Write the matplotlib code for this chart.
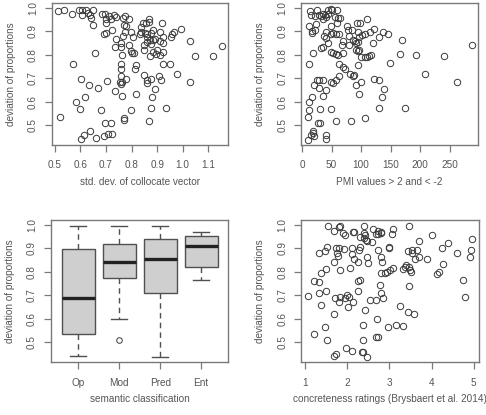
import matplotlib.pyplot as plt

plt.rcParams['font.family'] = ['Liberation Sans', 'DejaVu Sans']

# --- data ---
# panel 1: std. dev. of collocate vector vs deviation of proportions
std_dev = [0.512, 0.535, 0.569, 0.594, 0.608, 0.621, 0.637, 0.650, 0.605, 0.629,
           0.642, 0.650, 0.685, 0.695, 0.702, 0.711, 0.720, 0.730, 0.741, 0.699,
           0.694, 0.702, 0.724, 0.740, 0.737, 0.757, 0.760, 0.767, 0.773, 0.789,
           0.772, 0.780, 0.767, 0.776, 0.796, 0.804, 0.789, 0.796, 0.802, 0.811,
           0.763, 0.656, 0.570, 0.757, 0.757, 0.759, 0.753, 0.757, 0.763, 0.780,
           0.763, 0.737, 0.704, 0.667, 0.634, 0.602, 0.617, 0.581, 0.600, 0.681,
           0.520, 0.698, 0.721, 0.770, 0.772, 0.796, 0.819, 0.812, 0.816, 0.639,
           0.613, 0.603, 0.663, 0.694, 0.707, 0.724, 0.835, 0.846, 0.835, 0.832,
           0.853, 0.867, 0.867, 0.855, 0.861, 0.876, 0.882, 0.872, 0.885, 0.891,
           0.861, 0.850, 0.848, 0.861, 0.876, 0.884, 0.897, 0.900, 0.910, 0.871,
           0.913, 0.921, 0.910, 0.919, 0.921, 0.921, 0.923, 0.949, 0.965, 0.958,
           0.954, 0.992, 1.029, 1.046, 1.118, 1.152, 0.976, 1.030, 0.906, 0.917,
           0.850, 0.861, 0.861, 0.876, 0.891, 0.880, 0.876, 0.934, 0.867]
devprop_std = [0.985, 0.989, 0.972, 0.989, 0.992, 0.992, 0.968, 0.989, 0.968, 0.978,
               0.958, 0.926, 0.972, 0.975, 0.954, 0.965, 0.954, 0.968, 0.961, 0.933,
               0.890, 0.894, 0.907, 0.865, 0.833, 0.850, 0.833, 0.958, 0.964, 0.954,
               0.926, 0.921, 0.879, 0.897, 0.897, 0.876, 0.840, 0.816, 0.808, 0.808,
               0.798, 0.808, 0.760, 0.760, 0.741, 0.709, 0.684, 0.677, 0.684, 0.696,
               0.625, 0.646, 0.689, 0.656, 0.669, 0.695, 0.618, 0.599, 0.567, 0.565,
               0.536, 0.507, 0.510, 0.521, 0.531, 0.565, 0.632, 0.741, 0.754, 0.476,
               0.457, 0.440, 0.444, 0.454, 0.462, 0.462, 0.918, 0.935, 0.897, 0.890,
               0.893, 0.940, 0.954, 0.935, 0.890, 0.893, 0.907, 0.862, 0.862, 0.865,
               0.876, 0.840, 0.822, 0.855, 0.845, 0.812, 0.805, 0.819, 0.798, 0.794,
               0.859, 0.850, 0.897, 0.935, 0.876, 0.812, 0.762, 0.762, 0.897, 0.890,
               0.876, 0.909, 0.859, 0.795, 0.795, 0.838, 0.717, 0.684, 0.709, 0.691,
               0.714, 0.680, 0.691, 0.695, 0.652, 0.618, 0.571, 0.571, 0.518]

# panel 2: number of PMI values > 2 and < -2
pmi_count = [10, 10, 15, 18, 20, 19, 12, 11, 17, 20, 12, 18, 11, 17, 16, 21, 24, 14,
             15, 21, 25, 28, 32, 35, 39, 35, 41, 44, 48, 51, 44, 55, 59, 61, 64, 59,
             48, 40, 37, 41, 44, 35, 32, 53, 58, 62, 48, 48, 52, 57, 61, 69, 68, 69,
             76, 77, 85, 79, 80, 86, 90, 91, 94, 97, 94, 93, 98, 110, 106, 115, 101,
             94, 97, 91, 100, 106, 110, 114, 117, 120, 122, 130, 137, 145, 170, 166,
             148, 193, 240, 287, 209, 263, 174, 131, 135, 138, 131, 122, 100, 96, 91,
             94, 86, 88, 81, 72, 69, 63, 63, 58, 53, 49, 36, 29, 25, 40, 35, 28, 31,
             48, 27, 30, 57, 83, 106, 40, 41]
devprop_pmi = [0.536, 0.438, 0.457, 0.465, 0.454, 0.474, 0.598, 0.565, 0.618, 0.669,
               0.760, 0.808, 0.924, 0.893, 0.901, 0.907, 0.930, 0.985, 0.968, 0.964,
               0.989, 0.968, 0.964, 0.972, 0.968, 0.954, 0.961, 0.989, 0.994, 0.989,
               0.975, 0.961, 0.989, 0.958, 0.958, 0.933, 0.921, 0.897, 0.879, 0.869,
               0.850, 0.833, 0.830, 0.893, 0.890, 0.890, 0.890, 0.812, 0.808, 0.802,
               0.798, 0.808, 0.840, 0.859, 0.921, 0.907, 0.904, 0.879, 0.840, 0.862,
               0.859, 0.848, 0.855, 0.876, 0.896, 0.937, 0.933, 0.954, 0.890, 0.897,
               0.883, 0.816, 0.819, 0.822, 0.791, 0.791, 0.791, 0.794, 0.798, 0.850,
               0.911, 0.876, 0.897, 0.887, 0.862, 0.805, 0.765, 0.798, 0.795, 0.840,
               0.717, 0.684, 0.574, 0.574, 0.621, 0.652, 0.691, 0.695, 0.684, 0.632,
               0.670, 0.755, 0.709, 0.713, 0.716, 0.741, 0.748, 0.762, 0.709, 0.691,
               0.680, 0.684, 0.691, 0.691, 0.691, 0.649, 0.625, 0.656, 0.567, 0.567,
               0.510, 0.507, 0.518, 0.518, 0.528, 0.457, 0.440]

# panel 3: box statistics per semantic class
sem_classes = ['Op', 'Mod', 'Pred', 'Ent']
whis_lo = [0.440, 0.600, 0.437, 0.767]
q1 = [0.536, 0.774, 0.710, 0.821]
median = [0.689, 0.841, 0.853, 0.910]
q3 = [0.897, 0.917, 0.939, 0.954]
whis_hi = [0.997, 0.997, 0.994, 0.969]
outliers = [[], [0.509], [], []]

# panel 4: concreteness ratings
concreteness = [1.06, 1.20, 1.21, 1.33, 1.33, 1.38, 1.38, 1.33, 1.46, 1.48, 1.48, 1.46,
                1.52, 1.52, 1.54, 1.68, 1.68, 1.68, 1.68, 1.72, 1.71, 1.74, 1.76, 1.80,
                1.82, 1.78, 1.80, 1.79, 1.83, 1.83, 1.90, 1.91, 1.94, 1.94, 1.96, 1.98,
                2.01, 2.04, 2.10, 2.10, 2.07, 2.14, 2.16, 2.15, 2.14, 2.11, 2.26, 2.28,
                2.26, 2.30, 2.26, 2.31, 2.34, 2.38, 2.36, 2.38, 2.42, 2.31, 2.39, 2.39,
                2.42, 2.39, 2.44, 2.47, 2.46, 2.48, 2.47, 2.54, 2.58, 2.62, 2.69, 2.72,
                2.73, 2.68, 2.70, 2.68, 2.72, 2.73, 2.77, 2.79, 2.80, 2.81, 2.81, 2.82,
                2.81, 2.84, 2.89, 2.95, 2.97, 3.00, 3.00, 3.01, 3.05, 3.08, 3.08, 3.16,
                3.25, 3.33, 3.33, 3.37, 3.39, 3.45, 3.47, 3.49, 3.50, 3.47, 3.53, 3.53,
                3.47, 3.45, 3.58, 3.61, 3.66, 3.70, 3.70, 3.89, 4.01, 4.13, 4.17, 4.25,
                4.27, 4.39, 4.60, 4.75, 4.80, 4.92, 4.94, 4.96]
devprop_conc = [0.696, 0.760, 0.536, 0.757, 0.710, 0.657, 0.793, 0.879, 0.890, 0.810,
                0.717, 0.564, 0.507, 0.907, 0.997, 0.974, 0.843, 0.621, 0.440, 0.450,
                0.689, 0.900, 0.879, 0.993, 0.996, 0.869, 0.903, 0.671, 0.807, 0.693,
                0.964, 0.897, 0.957, 0.686, 0.476, 0.700, 0.650, 0.693, 0.874, 0.900,
                0.814, 0.971, 0.971, 0.853, 0.671, 0.461, 0.843, 0.893, 0.761, 0.764,
                0.719, 0.907, 0.457, 0.457, 0.507, 0.571, 0.636, 0.950, 0.997, 0.964,
                0.957, 0.946, 0.936, 0.933, 0.864, 0.839, 0.436, 0.679, 0.929, 0.981,
                0.961, 0.976, 0.961, 0.679, 0.600, 0.519, 0.519, 0.893, 0.743, 0.793,
                0.864, 0.971, 0.964, 0.843, 0.710, 0.686, 0.796, 0.800, 0.564, 0.907,
                0.900, 0.807, 0.961, 0.981, 0.814, 0.574, 0.653, 0.567, 0.810, 0.821,
                0.829, 0.889, 0.821, 0.807, 0.797, 0.996, 0.893, 0.879, 0.739, 0.626,
                0.619, 0.853, 0.893, 0.864, 0.933, 0.854, 0.957, 0.790, 0.800, 0.900,
                0.833, 0.921, 0.879, 0.764, 0.693, 0.861, 0.893, 0.940]

FRAME = '#7a7a7a'
TEXT = '#555555'
POINT = '#3a3a3a'
YLAB = 'deviation of proportions'
FS = 7.2


def r_style(ax, ylab, xlab):
    for s in ax.spines.values():
        s.set_color(FRAME)
        s.set_linewidth(1.0)
    ax.tick_params(length=5, width=0.9, color=FRAME, labelcolor=TEXT,
                   labelsize=FS, pad=6)
    ax.tick_params(axis='y', labelrotation=90, pad=5)
    for lbl in ax.get_yticklabels():
        lbl.set_va('center')
    ax.set_yticks([0.5, 0.6, 0.7, 0.8, 0.9, 1.0])
    ax.set_ylabel(ylab, fontsize=FS, color=TEXT, va='center')
    ax.set_xlabel(xlab, fontsize=FS, color=TEXT, va='center')
    h = ax.get_position().height * 415
    w = ax.get_position().width * 486
    ax.yaxis.set_label_coords(-41 / w, 0.5)
    ax.xaxis.set_label_coords(0.5, -37 / h)


def scatter(ax, x, y):
    ax.plot(x, y, 'o', ms=4.6, mfc='none', mec=POINT, mew=0.7)


fig = plt.figure(figsize=(4.86, 4.15), dpi=100)
ax1 = fig.add_axes([51.7 / 486, 1 - 145 / 415, 176.6 / 486, 141.7 / 415])
ax2 = fig.add_axes([301.3 / 486, 1 - 145 / 415, 176.7 / 486, 141.7 / 415])
ax3 = fig.add_axes([51 / 486, 1 - 362.3 / 415, 177.3 / 486, 142.3 / 415])
ax4 = fig.add_axes([301.3 / 486, 1 - 362.3 / 415, 177.4 / 486, 142.3 / 415])

scatter(ax1, std_dev, devprop_std)
ax1.set_xlim(0.488, 1.178)
ax1.set_ylim(0.415, 1.019)
ax1.set_xticks([0.5, 0.6, 0.7, 0.8, 0.9, 1.0, 1.1])
r_style(ax1, YLAB, 'std. dev. of collocate vector')

scatter(ax2, pmi_count, devprop_pmi)
ax2.set_xlim(-1.5, 298)
ax2.set_ylim(0.415, 1.019)
ax2.set_xticks([0, 50, 100, 150, 200, 250])
r_style(ax2, YLAB, 'PMI values > 2 and < -2')

stats = []
for i, name in enumerate(sem_classes):
    stats.append({'label': name, 'whislo': whis_lo[i], 'q1': q1[i], 'med': median[i],
                  'q3': q3[i], 'whishi': whis_hi[i], 'fliers': outliers[i]})
ax3.bxp(stats, positions=[1, 2, 3, 4], widths=0.8, patch_artist=True,
        boxprops=dict(facecolor='#cfcfcf', edgecolor='#505050', linewidth=1.0),
        medianprops=dict(color='#222222', linewidth=2.4, solid_capstyle='butt'),
        whiskerprops=dict(color='#505050', linewidth=1.0, linestyle=(0, (4, 3))),
        capprops=dict(color='#505050', linewidth=1.0),
        capwidths=0.4,
        flierprops=dict(marker='o', ms=4, mfc='none', mec=POINT, mew=0.7))
ax3.set_xlim(0.34, 4.66)
ax3.set_ylim(0.415, 1.021)
r_style(ax3, YLAB, 'semantic classification')
ax3.set_xticks([1, 2, 3, 4])
ax3.set_xticklabels(sem_classes)

scatter(ax4, concreteness, devprop_conc)
ax4.set_xlim(0.905, 5.12)
ax4.set_ylim(0.413, 1.021)
ax4.set_xticks([1, 2, 3, 4, 5])
r_style(ax4, YLAB, 'concreteness ratings (Brysbaert et al. 2014)')

fig.savefig('out.png', dpi=100)
